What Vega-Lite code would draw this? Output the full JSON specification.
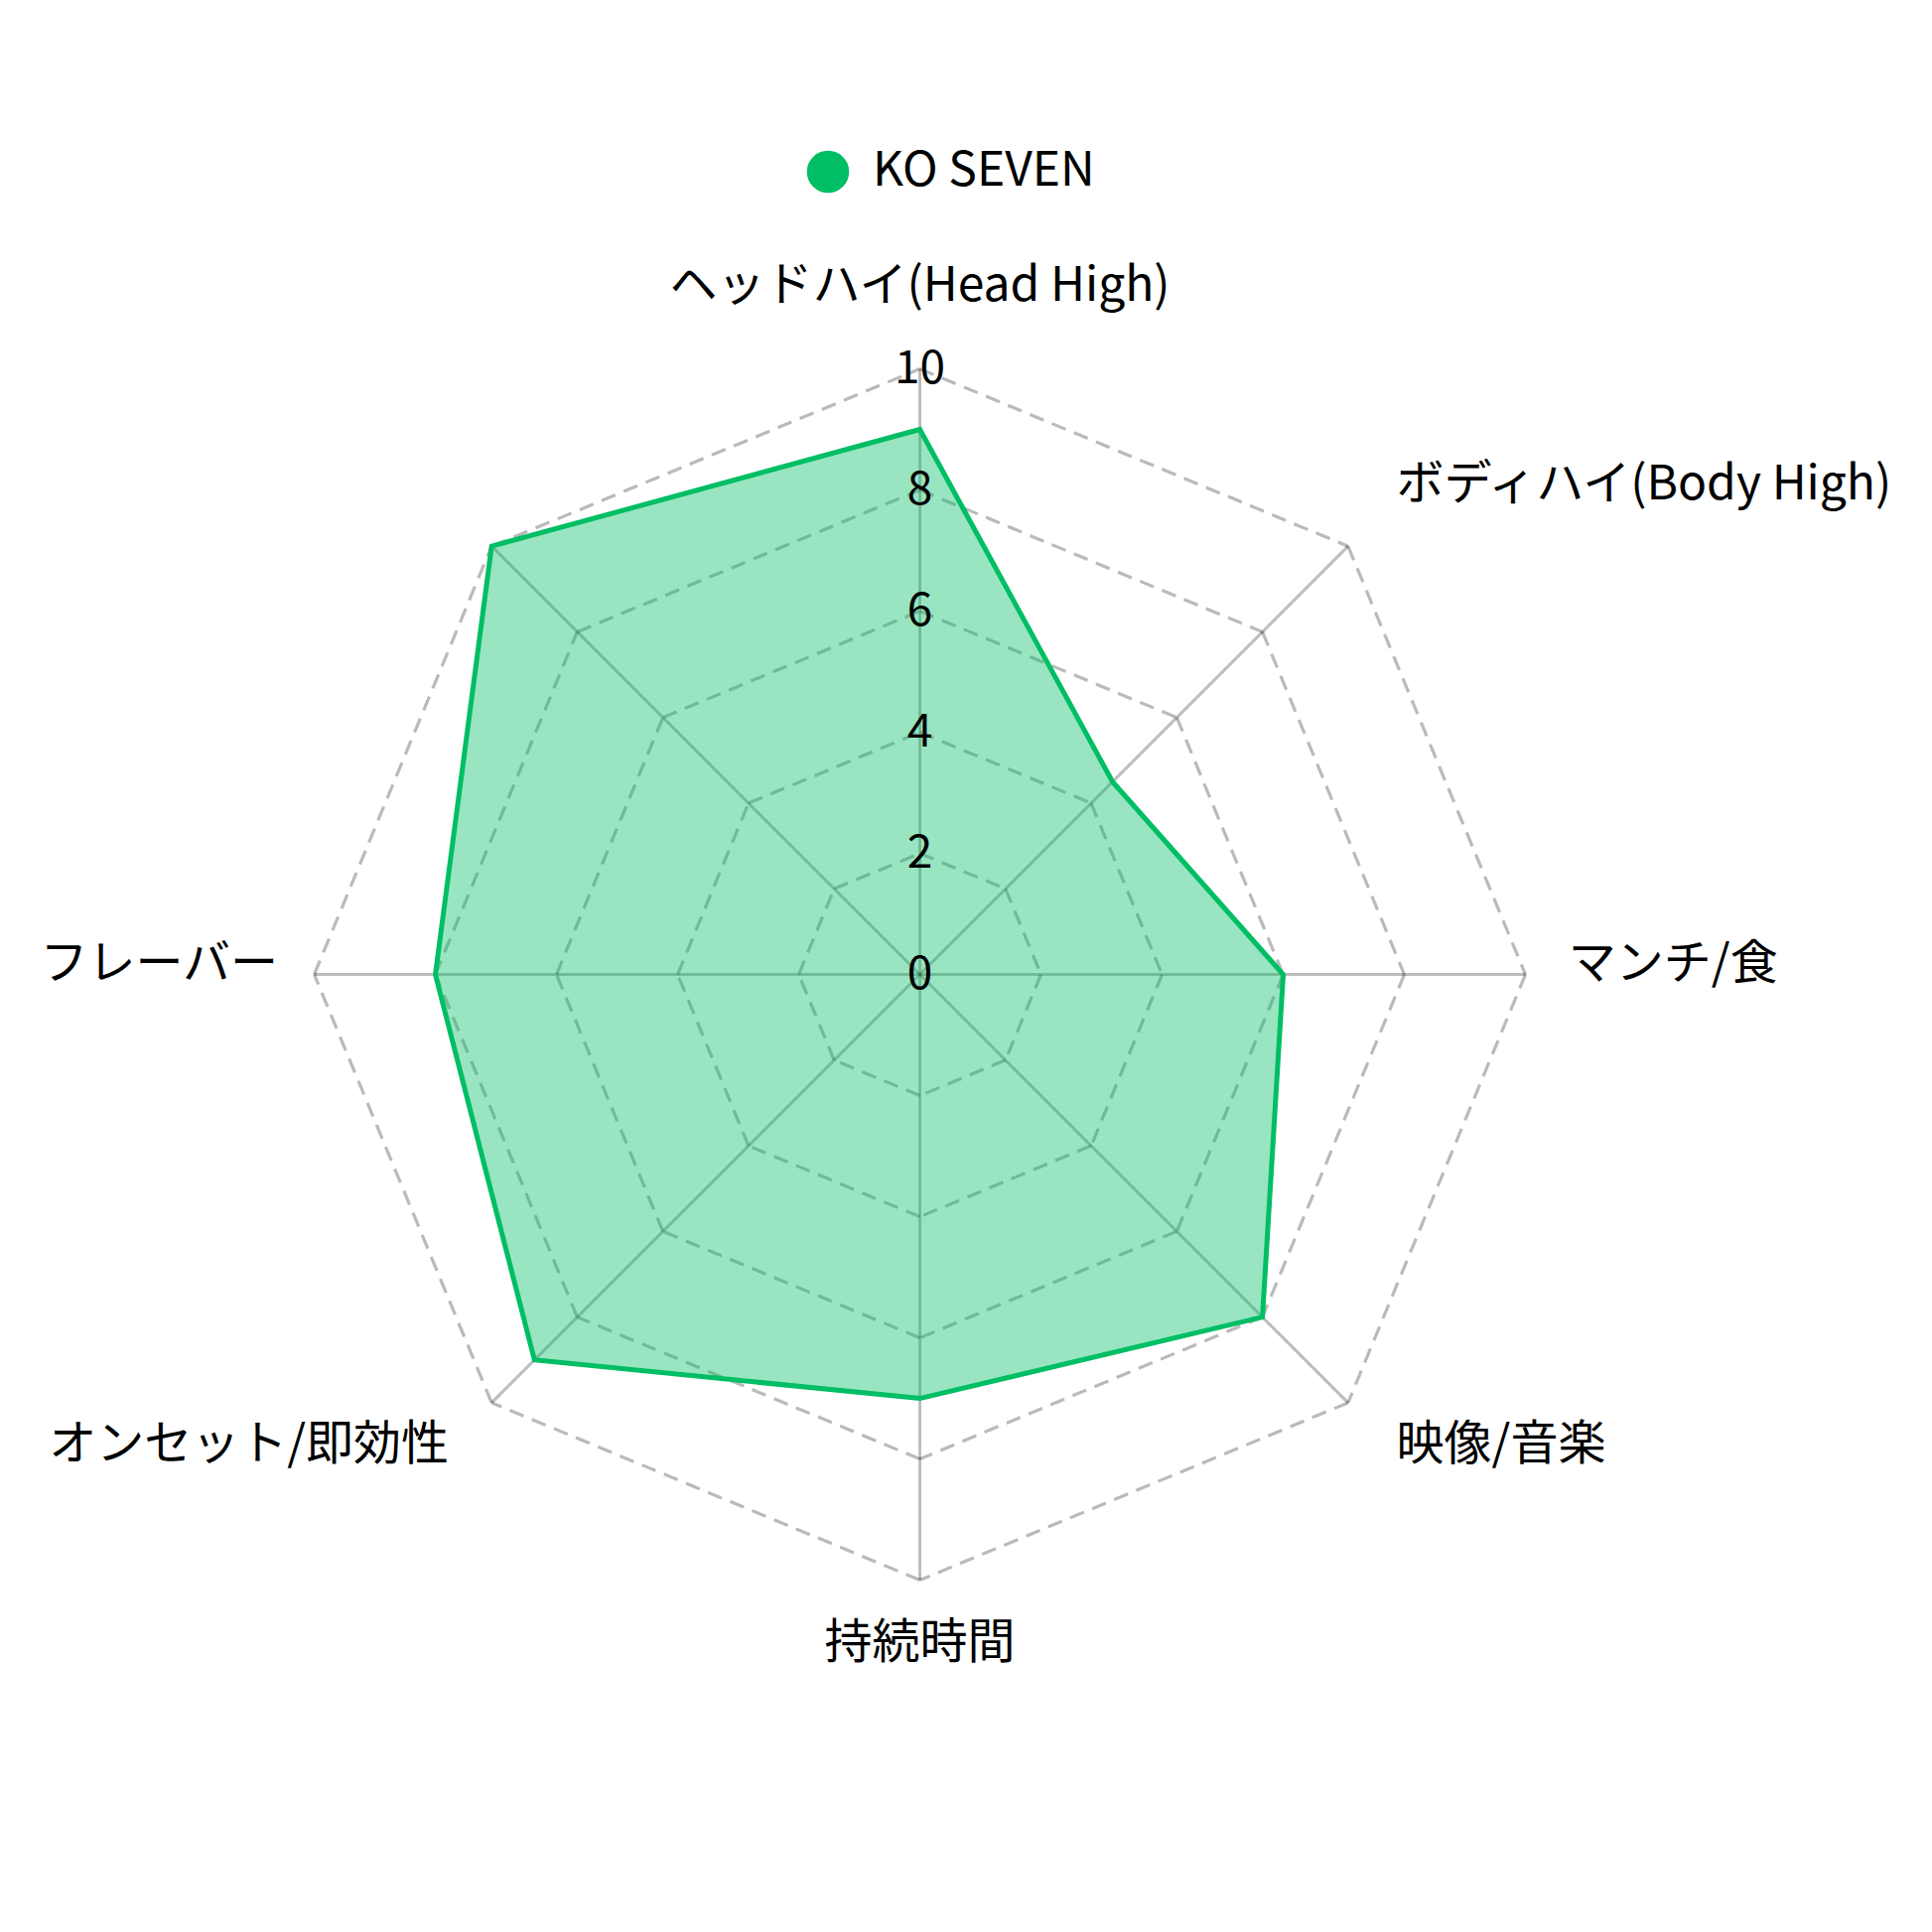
{
  "$schema": "https://vega.github.io/schema/vega-lite/v6.json",
  "width": 1946,
  "height": 1946,
  "autosize": "none",
  "padding": 0,
  "background": "white",
  "config": {"view": {"stroke": null}, "font": "Noto Sans CJK JP"},
  "datasets": {
    "axes": [
      {"axis": "ヘッドハイ(Head High)", "k": 0, "value": 9, "series": "KO SEVEN", "levels": [2, 4, 6, 8, 10]},
      {"axis": "ボディハイ(Body High)", "k": 1, "value": 4.5, "series": "KO SEVEN", "levels": [2, 4, 6, 8, 10]},
      {"axis": "マンチ/食", "k": 2, "value": 6, "series": "KO SEVEN", "levels": [2, 4, 6, 8, 10]},
      {"axis": "映像/音楽", "k": 3, "value": 8, "series": "KO SEVEN", "levels": [2, 4, 6, 8, 10]},
      {"axis": "持続時間", "k": 4, "value": 7, "series": "KO SEVEN", "levels": [2, 4, 6, 8, 10]},
      {"axis": "オンセット/即効性", "k": 5, "value": 9, "series": "KO SEVEN", "levels": [2, 4, 6, 8, 10]},
      {"axis": "フレーバー", "k": 6, "value": 8, "series": "KO SEVEN", "levels": [2, 4, 6, 8, 10]},
      {"axis": "", "k": 7, "value": 10, "series": "KO SEVEN", "levels": [2, 4, 6, 8, 10]}
    ],
    "ticks": [
      {"level": 0}, {"level": 2}, {"level": 4}, {"level": 6}, {"level": 8}, {"level": 10}
    ]
  },
  "layer": [
    {
      "data": {"name": "axes"},
      "transform": [
        {"flatten": ["levels"]},
        {"calculate": "datum.k * PI / 4", "as": "a"},
        {"calculate": "(datum.k + 1) * PI / 4", "as": "a2"},
        {"calculate": "datum.levels * sin(datum.a)", "as": "gx"},
        {"calculate": "datum.levels * cos(datum.a)", "as": "gy"},
        {"calculate": "datum.levels * sin(datum.a2)", "as": "gx2"},
        {"calculate": "datum.levels * cos(datum.a2)", "as": "gy2"}
      ],
      "mark": {"type": "rule", "stroke": "#000", "strokeOpacity": 0.27, "strokeWidth": 3.2, "strokeDash": [15, 9]},
      "encoding": {
        "x": {"field": "gx", "type": "quantitative", "scale": {"domain": [-15.189, 16.713], "nice": false, "zero": false}, "axis": null},
        "y": {"field": "gy", "type": "quantitative", "scale": {"domain": [-15.81, 16.09], "nice": false, "zero": false}, "axis": null},
        "x2": {"field": "gx2"},
        "y2": {"field": "gy2"}
      }
    },
    {
      "data": {"name": "axes"},
      "transform": [
        {"calculate": "datum.k * PI / 4", "as": "a"},
        {"calculate": "0", "as": "cx"},
        {"calculate": "0", "as": "cy"},
        {"calculate": "10 * sin(datum.a)", "as": "ex"},
        {"calculate": "10 * cos(datum.a)", "as": "ey"}
      ],
      "mark": {"type": "rule", "stroke": "#000", "strokeOpacity": 0.26, "strokeWidth": 3},
      "encoding": {
        "x": {"field": "cx", "type": "quantitative"},
        "y": {"field": "cy", "type": "quantitative"},
        "x2": {"field": "ex"},
        "y2": {"field": "ey"}
      }
    },
    {
      "data": {"name": "axes"},
      "transform": [
        {"calculate": "datum.k * PI / 4", "as": "a"},
        {"calculate": "datum.value * sin(datum.a)", "as": "px"},
        {"calculate": "datum.value * cos(datum.a)", "as": "py"}
      ],
      "mark": {"type": "line", "interpolate": "linear-closed", "fill": "#00BE64", "fillOpacity": 0.4, "strokeWidth": 5, "strokeJoin": "miter"},
      "encoding": {
        "x": {"field": "px", "type": "quantitative"},
        "y": {"field": "py", "type": "quantitative"},
        "order": {"field": "k", "type": "quantitative"},
        "color": {
          "field": "series",
          "type": "nominal",
          "scale": {"range": ["#00BE64"]},
          "legend": {
            "orient": "none",
            "legendX": 810,
            "legendY": 149,
            "title": null,
            "padding": 0,
            "symbolType": "circle",
            "symbolSize": 1810,
            "symbolStrokeWidth": 0,
            "symbolFillColor": "#00BE64",
            "symbolOpacity": 1,
            "labelFontSize": 48,
            "labelFont": "Noto Sans CJK JP",
            "labelColor": "#000",
            "labelOffset": 21,
            "labelLimit": 0
          }
        }
      }
    },
    {
      "data": {"name": "ticks"},
      "transform": [{"calculate": "0", "as": "tx"}],
      "mark": {"type": "text", "align": "center", "baseline": "middle", "fontSize": 46, "font": "Noto Sans CJK JP", "color": "#000"},
      "encoding": {
        "x": {"field": "tx", "type": "quantitative"},
        "y": {"field": "level", "type": "quantitative"},
        "text": {"field": "level", "type": "quantitative"}
      }
    },
    {
      "data": {"name": "axes"},
      "transform": [
        {"filter": "datum.k == 0 || datum.k == 4"},
        {"calculate": "datum.k * PI / 4", "as": "a"},
        {"calculate": "sin(datum.a) * (10.71 + 0.42 * abs(sin(2 * datum.a)))", "as": "lx"},
        {"calculate": "0.15 + 11.2 * cos(datum.a)", "as": "ly"}
      ],
      "mark": {"type": "text", "align": "center", "baseline": "middle", "fontSize": 48, "font": "Noto Sans CJK JP", "color": "#000"},
      "encoding": {
        "x": {"field": "lx", "type": "quantitative"},
        "y": {"field": "ly", "type": "quantitative"},
        "text": {"field": "axis", "type": "nominal"}
      }
    },
    {
      "data": {"name": "axes"},
      "transform": [
        {"filter": "datum.k >= 1 && datum.k <= 3"},
        {"calculate": "datum.k * PI / 4", "as": "a"},
        {"calculate": "sin(datum.a) * (10.71 + 0.42 * abs(sin(2 * datum.a)))", "as": "lx"},
        {"calculate": "0.15 + 11.2 * cos(datum.a)", "as": "ly"}
      ],
      "mark": {"type": "text", "align": "left", "baseline": "middle", "fontSize": 48, "font": "Noto Sans CJK JP", "color": "#000"},
      "encoding": {
        "x": {"field": "lx", "type": "quantitative"},
        "y": {"field": "ly", "type": "quantitative"},
        "text": {"field": "axis", "type": "nominal"}
      }
    },
    {
      "data": {"name": "axes"},
      "transform": [
        {"filter": "datum.k >= 5"},
        {"calculate": "datum.k * PI / 4", "as": "a"},
        {"calculate": "sin(datum.a) * (10.6 + 0.4 * abs(sin(2 * datum.a)))", "as": "lx"},
        {"calculate": "0.15 + 11.2 * cos(datum.a)", "as": "ly"}
      ],
      "mark": {"type": "text", "align": "right", "baseline": "middle", "fontSize": 48, "font": "Noto Sans CJK JP", "color": "#000"},
      "encoding": {
        "x": {"field": "lx", "type": "quantitative"},
        "y": {"field": "ly", "type": "quantitative"},
        "text": {"field": "axis", "type": "nominal"}
      }
    }
  ]
}
